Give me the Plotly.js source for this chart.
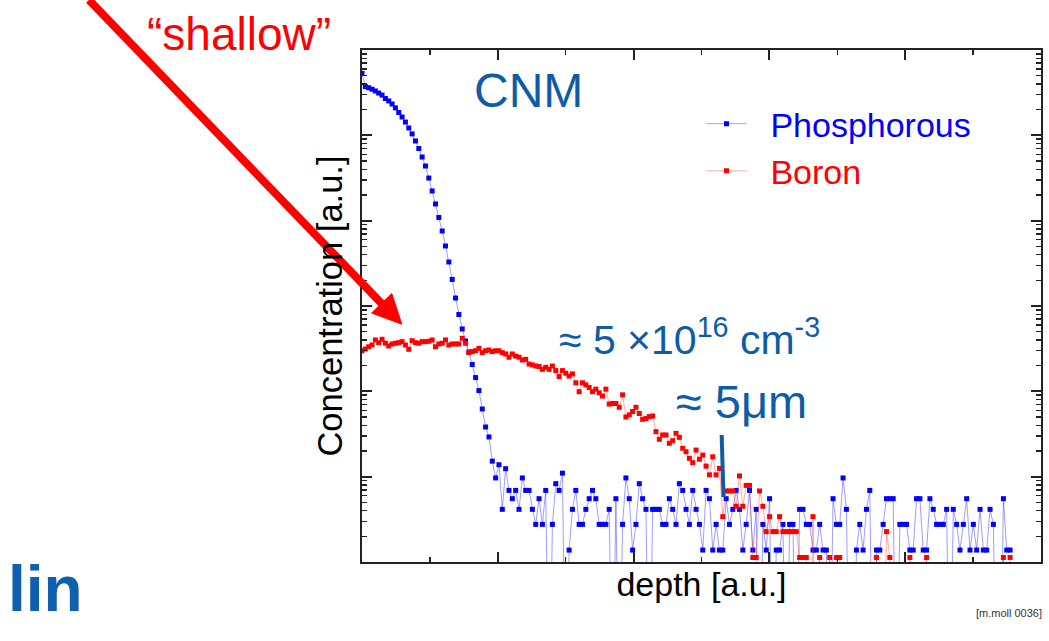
<!DOCTYPE html>
<html>
<head>
<meta charset="utf-8">
<script src="https://cdn.plot.ly/plotly-3.0.1.min.js"></script>
<style>html,body{margin:0;padding:0;background:#fff;}</style>
</head>
<body>
<div id="chart" style="width:1049px;height:641px;"></div>
<script>
// Depth grid: first sample and spacing (a.u.)
const DEPTH_START = 0;
const DEPTH_STEP = 0.0492;

// Phosphorous concentration [a.u.] (values below the axis = zero counts)
const phosphorous = [
  5.33e5, 3.72e5, 3.61e5, 3.47e5, 3.31e5, 3.13e5, 2.96e5, 2.70e5, 2.53e5, 2.33e5,
  2.10e5, 1.85e5, 1.64e5, 1.43e5, 1.22e5, 1.04e5, 8.59e4, 7.01e4, 5.57e4, 4.37e4,
  3.16e4, 2.23e4, 1.57e4, 1.09e4, 7570, 5050, 3280, 2050, 1240, 795,
  538, 389, 289, 206, 145, 102, 62.1, 38.2, 29.2, 15.2,
  9.66, 13.8, 4.14, 12.4, 6.9, 5.52, 6.9, 4.14, 9.66, 6.9,
  6.9, 4.14, 2.76, 5.52, 2.76, 6.9, 0.01, 2.76, 8.28, 6.9,
  11.0, 0.01, 1.38, 4.14, 6.9, 2.76, 2.76, 4.14, 5.52, 6.9,
  5.52, 2.76, 2.76, 2.76, 4.14, 0.01, 5.52, 0.01, 2.76, 9.66,
  5.52, 1.38, 2.76, 8.28, 5.52, 4.14, 0.01, 4.14, 4.14, 4.14,
  2.76, 2.76, 5.52, 4.14, 2.76, 8.28, 6.9, 4.14, 2.76, 6.9,
  4.14, 2.76, 1.38, 6.9, 5.52, 1.38, 2.76, 1.38, 1.38, 5.52,
  2.76, 4.14, 6.9, 4.14, 1.38, 2.76, 6.9, 1.38, 4.14, 0.01,
  2.76, 1.38, 5.52, 0.01, 1.38, 1.38, 2.76, 0.01, 2.76, 2.76,
  0.01, 4.14, 4.14, 2.76, 2.76, 1.38, 1.38, 2.76, 1.38, 1.38,
  0.01, 5.52, 2.76, 2.76, 9.66, 4.14, 0.01, 0.01, 1.38, 2.76,
  1.38, 4.14, 6.9, 0.01, 1.38, 1.38, 2.76, 5.52, 5.52, 5.52,
  0.01, 2.76, 2.76, 2.76, 1.38, 1.38, 5.52, 5.52, 1.38, 1.38,
  5.52, 4.14, 2.76, 2.76, 2.76, 4.14, 0.01, 4.14, 2.76, 1.38,
  2.76, 5.52, 1.38, 2.76, 1.38, 4.14, 1.38, 1.38, 4.14, 2.76,
  0.01, 0.01, 5.52, 1.38, 1.38
];

// Boron concentration [a.u.]
const boron = [
  299, 313, 333, 349, 400, 372, 407, 366, 340, 359,
  366, 372, 382, 349, 311, 392, 372, 366, 382, 382,
  386, 400, 333, 359, 366, 400, 349, 359, 359, 359,
  418, 366, 284, 292, 299, 319, 284, 299, 305, 292,
  299, 299, 284, 274, 251, 274, 259, 251, 233, 237,
  209, 204, 198, 195, 181, 191, 181, 198, 175, 149,
  175, 163, 151, 160, 126, 99, 126, 119, 111, 99,
  106, 96, 88, 106, 71, 72, 72, 65, 91, 50,
  53, 58, 65, 55, 47, 48, 50.5, 51.4, 33.7, 27.4,
  30.8, 30.8, 24.6, 26.4, 32.2, 28.9, 21.5, 19.6, 16.4, 14.6,
  20.5, 16.0, 17.9, 13.3, 10.5, 17.1, 10.5, 12.5, 3.4, 6.8,
  6.8, 6.8, 4.5, 10.2, 4.5, 7.9, 7.9, 1.13, 1.13, 6.8,
  4.5, 2.27, 3.4, 2.27, 2.27, 3.4, 2.27, 2.27, 2.27, 2.27,
  2.27, 1.13, 1.13, 1.13, 0.01, 3.4, 0.01, 1.13, 0.01, 0.01,
  1.13, 0.01, 1.13, 1.13, 0.01, 0.01, 0.01, 0.01, 0.01, 0.01,
  0.01, 0.01, 0.01, 0.01, 1.13, 0.01, 0.01, 2.27, 1.13, 0.01,
  0.01, 0.01, 0.01, 0.01, 1.13, 0.01, 0.01, 0.01, 0.01, 1.13,
  0.01, 0.01, 0.01, 0.01, 0.01, 0.01, 0.01, 0.01, 0.01, 0.01,
  0.01, 0.01, 0.01, 0.01, 0.01, 0.01, 0.01, 0.01, 0.01, 0.01,
  0.01, 0.01, 1.13, 0.01, 1.13
];

const seriesNames = ['Phosphorous', 'Boron'];
const X_RANGE = [0, 10];
const Y_RANGE_LOG = [0, 6];

const DARK_BLUE = '#0f5ca6';
const FONT = 'Liberation Sans, Arial, Helvetica, sans-serif';
const AXIS_COLOR = '#222';

// tick positions: all (short) and major (long, drawn by the overlaid axes)
const xAllTicks = [], xMajorTicks = [];
for (let v = X_RANGE[0]; v <= X_RANGE[1]; v++) {
  xAllTicks.push(v);
  if (v % 2 === 0) xMajorTicks.push(v);
}
const yAllTicks = [], yMajorTicks = [];
for (let d = Y_RANGE_LOG[0]; d <= Y_RANGE_LOG[1]; d++) {
  yMajorTicks.push(Math.pow(10, d));
  yAllTicks.push(Math.pow(10, d));
  if (d < Y_RANGE_LOG[1]) for (let m = 2; m <= 9; m++) yAllTicks.push(m * Math.pow(10, d));
}

const NB = '\u00a0\u00a0';

const traces = [
  {
    type: 'scatter', mode: 'lines+markers',
    x0: DEPTH_START, dx: DEPTH_STEP, y: phosphorous,
    xaxis: 'x', yaxis: 'y',
    name: '<span style="color:#0000ff">' + NB + seriesNames[0] + '</span>',
    legendgroup: 'p',
    line: {color: 'rgba(40,40,255,0.45)', width: 1},
    marker: {symbol: 'square', size: 5, color: '#0000ff'},
    cliponaxis: true, hoverinfo: 'skip'
  },
  {
    type: 'scatter', mode: 'lines+markers',
    x0: DEPTH_START, dx: DEPTH_STEP, y: boron,
    xaxis: 'x2', yaxis: 'y2',
    name: '<span style="color:#ff0000">' + NB + seriesNames[1] + '</span>',
    legendgroup: 'b',
    line: {color: 'rgba(255,40,40,0.4)', width: 1},
    marker: {symbol: 'square', size: 5, color: '#ff0000'},
    cliponaxis: true, hoverinfo: 'skip'
  }
];

const axisCommon = {
  showgrid: false, zeroline: false, showline: true,
  linecolor: AXIS_COLOR, linewidth: 2, mirror: 'allticks',
  ticks: 'inside', tickcolor: AXIS_COLOR, tickmode: 'array',
  showticklabels: false, fixedrange: true
};

const layout = {
  width: 1049, height: 641,
  margin: {l: 362, r: 8, t: 50, b: 79, pad: 0},
  paper_bgcolor: '#ffffff', plot_bgcolor: '#ffffff',
  font: {family: FONT, color: '#000'},
  showlegend: true,
  legend: {
    x: 0.50, y: 0.912, xanchor: 'left', yanchor: 'top',
    bgcolor: 'rgba(0,0,0,0)', borderwidth: 0,
    font: {family: FONT, size: 34},
    itemwidth: 40, tracegroupgap: 4, traceorder: 'normal'
  },
  // main axes: every tick (short) + titles
  xaxis: Object.assign({}, axisCommon, {
    range: X_RANGE, tickvals: xAllTicks, ticklen: 5, tickwidth: 1.5,
    title: {text: 'depth [a.u.]', font: {family: FONT, size: 34, color: '#000'}, standoff: 9}
  }),
  yaxis: Object.assign({}, axisCommon, {
    type: 'log', range: Y_RANGE_LOG, tickvals: yAllTicks, ticklen: 5, tickwidth: 1.5,
    title: {text: 'Concentration [a.u.]', font: {family: FONT, size: 34.5, color: '#000'}, standoff: 7}
  }),
  // overlaid axes with the same scales: long major ticks
  xaxis2: Object.assign({}, axisCommon, {
    overlaying: 'x', anchor: 'y2', side: 'bottom',
    range: X_RANGE, tickvals: xMajorTicks, ticklen: 10, tickwidth: 2
  }),
  yaxis2: Object.assign({}, axisCommon, {
    overlaying: 'y', anchor: 'x2', side: 'left',
    type: 'log', range: Y_RANGE_LOG, tickvals: yMajorTicks, ticklen: 10, tickwidth: 2
  }),
  annotations: [
    {text: 'CNM', xref: 'paper', yref: 'paper', x: 0.2459, y: 0.920,
     xanchor: 'center', yanchor: 'middle', showarrow: false,
     font: {family: FONT, size: 48, color: DARK_BLUE}},
    {text: '≈ 5 ×10<sup>16</sup> cm<sup>-3</sup>', xref: 'paper', yref: 'paper', x: 0.2872, y: 0.385,
     xanchor: 'left', yanchor: 'bottom', showarrow: false,
     font: {family: FONT, size: 41, color: DARK_BLUE}},
    {text: '≈ 5μm', xref: 'paper', yref: 'paper', x: 0.460, y: 0.258,
     xanchor: 'left', yanchor: 'bottom', showarrow: false,
     font: {family: FONT, size: 47, color: DARK_BLUE}},
    {text: '“shallow”', xref: 'paper', yref: 'paper', x: -0.1811, y: 1.0322,
     xanchor: 'center', yanchor: 'middle', showarrow: false,
     font: {family: FONT, size: 46, color: '#ff0000'}},
    {text: '<b>lin</b>', xref: 'paper', yref: 'paper', x: -0.5245, y: -0.0537,
     xanchor: 'left', yanchor: 'middle', showarrow: false,
     font: {family: FONT, size: 64, color: '#1060b0'}},
    {text: '[m.moll 0036]', xref: 'paper', yref: 'paper', x: 1.0044, y: -0.0996,
     xanchor: 'right', yanchor: 'middle', showarrow: false,
     font: {family: FONT, size: 11, color: '#333'}}
  ],
  shapes: [
    {type: 'line', xref: 'paper', yref: 'paper', x0: 0.5297, y0: 0.248, x1: 0.5324, y1: 0.127,
     line: {color: DARK_BLUE, width: 4}},
    {type: 'line', xref: 'paper', yref: 'paper', x0: -0.4021, y0: 1.0977, x1: 0.0324, y1: 0.500,
     line: {color: '#ff0000', width: 8}},
    {type: 'path', xref: 'paper', yref: 'paper',
     path: 'M 0.01414 0.4863 L 0.04389 0.5242 L 0.05862 0.4645 Z',
     fillcolor: '#ff0000', line: {color: '#ff0000', width: 1}}
  ]
};

Plotly.newPlot('chart', traces, layout, {staticPlot: true, displayModeBar: false});
</script>
</body>
</html>
